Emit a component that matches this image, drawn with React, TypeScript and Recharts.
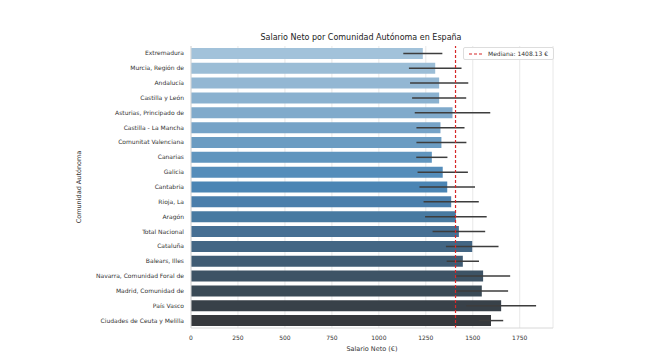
import React from 'react';
import {
  BarChart,
  Bar,
  XAxis,
  YAxis,
  CartesianGrid,
  ErrorBar,
  ReferenceLine,
  Cell
} from 'recharts';

const regions = [
  'Extremadura',
  'Murcia, Región de',
  'Andalucía',
  'Castilla y León',
  'Asturias, Principado de',
  'Castilla - La Mancha',
  'Comunitat Valenciana',
  'Canarias',
  'Galicia',
  'Cantabria',
  'Rioja, La',
  'Aragón',
  'Total Nacional',
  'Cataluña',
  'Balears, Illes',
  'Navarra, Comunidad Foral de',
  'Madrid, Comunidad de',
  'País Vasco',
  'Ciudades de Ceuta y Melilla'
];

const salaries = [1234, 1300, 1321, 1321, 1392, 1328, 1333, 1282, 1340, 1364, 1385, 1410, 1426, 1497, 1447, 1555, 1548, 1651, 1597];
const errors = [104, 140, 155, 144, 201, 128, 133, 83, 134, 148, 147, 164, 140, 140, 86, 144, 140, 186, 65];

const MEDIAN = 1408.13;
const xTicks = [0, 250, 500, 750, 1000, 1250, 1500, 1750];

// Blues_d style palette, light to dark
const PALETTE = [
  '#a2c2da', '#9bbdd6', '#93b7d3', '#8ab1cf', '#80aacb', '#76a3c7', '#6b9cc2',
  '#6095be', '#558dba', '#4b85b4', '#4a7eab', '#487aa1', '#466f93', '#436684',
  '#405c74', '#3d5365', '#3a4a56', '#384149', '#36393d'
];

const data = regions.map((name, i) => ({ name, salary: salaries[i], err: errors[i] }));

const FONT = '"DejaVu Sans", sans-serif';

function RegionTick(props: any) {
  const { x, y, payload } = props;
  return (
    <text x={x} y={y} dy={2} textAnchor="end" fontSize={6} fill="#333" fontFamily={FONT}>
      {payload.value}
    </text>
  );
}

export default function App() {
  return (
    <div style={{ position: 'absolute', left: 0, top: 0, width: 657, height: 354, background: '#fff', fontFamily: FONT }}>
      <div
        style={{
          position: 'absolute',
          top: 33,
          left: 191,
          width: 340,
          textAlign: 'center',
          fontSize: 8,
          color: '#222'
        }}
      >
        Salario Neto por Comunidad Autónoma en España
      </div>
      <BarChart
        width={657}
        height={354}
        data={data}
        layout="vertical"
        margin={{ top: 46, right: 104, bottom: 0, left: 0 }}
        barCategoryGap="13%"
      >
        <CartesianGrid horizontal={false} stroke="#e8e8e8" />
        <XAxis
          type="number"
          domain={[0, 1927]}
          ticks={xTicks}
          allowDataOverflow
          tickLine={false}
          axisLine={{ stroke: '#d8d8d8' }}
          tick={{ fontSize: 6, fill: '#333', fontFamily: FONT }}
          tickMargin={2}
          height={26}
          label={{ value: 'Salario Neto (€)', position: 'insideBottom', offset: 3, fontSize: 6.5, fill: '#333', fontFamily: FONT }}
        />
        <XAxis xAxisId="top" orientation="top" type="number" domain={[0, 1927]} tick={false} tickLine={false} height={0} axisLine={{ stroke: '#e0e0e0' }} />
        <YAxis
          type="category"
          dataKey="name"
          width={191}
          tickLine={false}
          axisLine={{ stroke: '#d8d8d8' }}
          interval={0}
          tickMargin={1}
          tick={<RegionTick />}
          label={{ value: 'Comunidad Autónoma', angle: -90, position: 'insideLeft', offset: 79, fontSize: 6.5, fill: '#333', fontFamily: FONT, style: { textAnchor: 'middle' } }}
        />
        <YAxis yAxisId="right" orientation="right" type="category" dataKey="name" width={0} tick={false} tickLine={false} axisLine={{ stroke: '#d8d8d8' }} />
        <Bar dataKey="salary" isAnimationActive={false}>
          {data.map((d, i) => (
            <Cell key={d.name} fill={PALETTE[i]} />
          ))}
          <ErrorBar dataKey="err" direction="x" width={0} stroke="#3d3d3d" strokeWidth={1.5} isAnimationActive={false} />
        </Bar>
        <ReferenceLine x={MEDIAN} stroke="#d62728" strokeDasharray="3 2" strokeWidth={1.2} />
      </BarChart>
      <div
        style={{
          position: 'absolute',
          top: 47,
          left: 463,
          display: 'flex',
          alignItems: 'center',
          gap: 5,
          background: 'rgba(255,255,255,0.9)',
          border: '1px solid #dddddd',
          borderRadius: 2,
          padding: '2px 5px',
          fontSize: 6,
          color: '#333'
        }}
      >
        <svg width={14} height={4}>
          <line x1={0} y1={2} x2={14} y2={2} stroke="#d62728" strokeWidth={1.2} strokeDasharray="3 2" />
        </svg>
        <span>Mediana: 1408.13 €</span>
      </div>
    </div>
  );
}
